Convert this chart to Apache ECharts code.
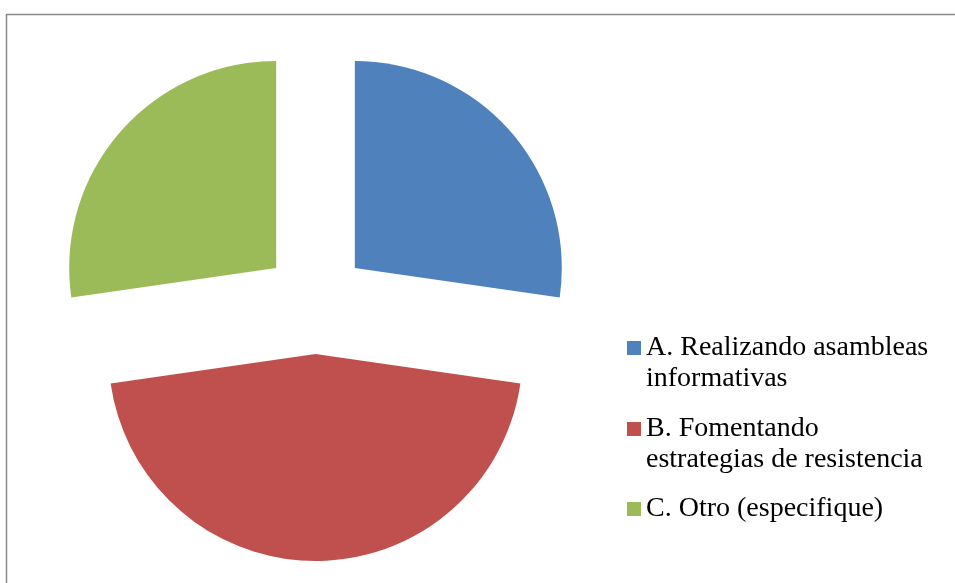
<!DOCTYPE html>
<html>
<head>
<meta charset="utf-8">
<script src="https://cdn.jsdelivr.net/npm/echarts@6/dist/echarts.min.js"></script>
<style>
  html, body { margin: 0; padding: 0; background: #fff; }
  #main { width: 955px; height: 583px; }
</style>
</head>
<body>
<div id="main"></div>
<script>
var categories = ['A. Realizando asambleas informativas', 'B. Fomentando estrategias de resistencia', 'C. Otro (especifique)'];
var legendLabels = ['A. Realizando asambleas\ninformativas', 'B. Fomentando\nestrategias de resistencia', 'C. Otro (especifique)'];
var values = [3, 5, 3];
var colors = ['#4F81BD', '#C0504D', '#9BBB59'];

var chartDom = document.getElementById('main');
var myChart = echarts.init(chartDom);

// square marker at the top of a taller item box, so it lines up with the first text line
var tallIcon = 'path://M0,0L14,0L14,14L0,14Z M0,45L14,45Z';
var legendTops = [332.5, 413.5, 493.5];
var legends = categories.map(function (name, i) {
  var twoLines = legendLabels[i].indexOf('\n') >= 0;
  return {
    orient: 'vertical',
    left: 627,
    top: legendTops[i],
    padding: 0,
    icon: twoLines ? tallIcon : 'rect',
    itemWidth: 14,
    itemHeight: twoLines ? 45 : 14,
    selectedMode: false,
    data: [name],
    formatter: function () { return legendLabels[i]; },
    textStyle: {
      fontFamily: 'Liberation Serif',
      fontSize: 28,
      lineHeight: 31,
      color: '#000'
    }
  };
});

var option = {
  backgroundColor: '#FFF',
  animation: false,
  graphic: [{
    type: 'rect',
    shape: { x: 6.5, y: 14.5, width: 1000, height: 700 },
    style: { fill: 'none', stroke: '#898989', lineWidth: 1.5 },
    silent: true
  }],
  legend: legends,
  series: [{
    type: 'pie',
    center: [315.5, 302],
    radius: 207,
    startAngle: 90,
    clockwise: true,
    selectedMode: 'multiple',
    selectedOffset: 52,
    label: { show: false },
    labelLine: { show: false },
    emphasis: { disabled: true },
    itemStyle: { borderWidth: 0 },
    data: categories.map(function (name, i) {
      return { name: name, value: values[i], selected: true, itemStyle: { color: colors[i] } };
    })
  }]
};

option && myChart.setOption(option);
</script>
</body>
</html>
